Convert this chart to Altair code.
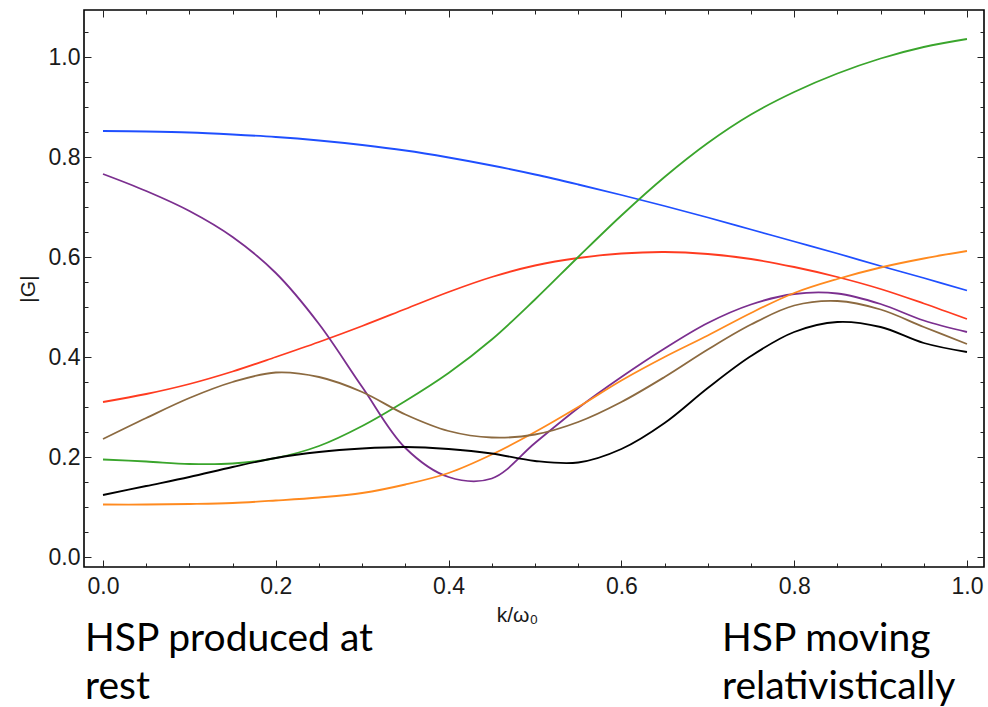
import altair as alt
import pandas as pd

# k / omega_0 sample positions
k_vals = [0.0, 0.05, 0.1, 0.15, 0.2, 0.25, 0.3, 0.35, 0.4, 0.45, 0.5,
          0.55, 0.6, 0.65, 0.7, 0.75, 0.8, 0.85, 0.9, 0.95, 1.0]

blue = [0.852, 0.851, 0.849, 0.845, 0.840, 0.833, 0.824, 0.813, 0.799, 0.783, 0.765,
        0.745, 0.724, 0.702, 0.679, 0.655, 0.631, 0.607, 0.582, 0.558, 0.533]
green = [0.195, 0.191, 0.186, 0.187, 0.198, 0.222, 0.262, 0.312, 0.368, 0.435, 0.515,
         0.600, 0.683, 0.760, 0.828, 0.885, 0.930, 0.967, 0.997, 1.020, 1.036]
red = [0.310, 0.326, 0.346, 0.371, 0.400, 0.430, 0.462, 0.496, 0.530, 0.560, 0.583,
       0.598, 0.607, 0.610, 0.606, 0.596, 0.580, 0.560, 0.536, 0.507, 0.476]
purple = [0.766, 0.732, 0.692, 0.640, 0.568, 0.466, 0.340, 0.218, 0.160, 0.157, 0.228,
          0.298, 0.360, 0.417, 0.468, 0.505, 0.526, 0.527, 0.506, 0.473, 0.450]
brown = [0.236, 0.278, 0.318, 0.350, 0.369, 0.360, 0.330, 0.285, 0.252, 0.239, 0.245,
         0.270, 0.310, 0.360, 0.415, 0.465, 0.503, 0.512, 0.495, 0.460, 0.426]
black = [0.124, 0.142, 0.160, 0.180, 0.198, 0.210, 0.217, 0.220, 0.216, 0.207, 0.192,
         0.189, 0.216, 0.268, 0.338, 0.402, 0.450, 0.470, 0.460, 0.428, 0.410]
orange = [0.105, 0.105, 0.106, 0.108, 0.113, 0.119, 0.128, 0.145, 0.168, 0.205, 0.250,
          0.300, 0.353, 0.400, 0.443, 0.488, 0.528, 0.556, 0.579, 0.597, 0.612]

series_names = ["blue", "red", "green", "purple", "orange", "brown", "black"]
series_values = [blue, red, green, purple, orange, brown, black]
series_colors = ["#1f4fff", "#ff3b20", "#3aa52c", "#7b2f8f", "#ff8a1f", "#8c6a40", "#000000"]

x_tick_values = [round(i * 0.05, 2) for i in range(21)]
y_tick_values = [round(i * 0.05, 2) for i in range(22)]

left_note = "HSP produced at\nrest"
right_note = "HSP moving\nrelativistically"

rows = []
for name, vals in zip(series_names, series_values):
    for kk, g in zip(k_vals, vals):
        rows.append({"k": kk, "G": g, "series": name})
df = pd.DataFrame(rows)

x_scale = alt.Scale(domain=[-0.022, 1.0197], nice=False, zero=False)
y_scale = alt.Scale(domain=[-0.02, 1.094], nice=False, zero=False)
color_scale = alt.Scale(domain=series_names, range=series_colors)

MAJ = 7
MIN = 4
minor_test = "abs(datum.value*5 - round(datum.value*5)) > 0.001"
label_expr = "abs(datum.value*5 - round(datum.value*5)) < 0.001 ? format(datum.value, '.1f') : ''"

tick_common = dict(
    offset=-MAJ,
    tickSize=MAJ,
    tickColor="#222222",
    tickWidth=1,
    tickDash={"condition": {"test": minor_test, "value": [MIN, MAJ - MIN]}, "value": [MAJ, 0]},
    tickDashOffset={"condition": {"test": minor_test, "value": MIN}, "value": 0},
    domain=False,
    grid=False,
    labelOverlap=False,
    labelFlush=False,
)
label_font = "Liberation Sans"

x_bottom = alt.Axis(orient="bottom", values=x_tick_values, labelExpr=label_expr,
                    labelFont=label_font, labelFontSize=23, labelColor="#1a1a1a",
                    labelPadding=8, title="k/ω₀", titleFont=label_font, titleFontSize=21,
                    titleFontWeight="normal", titleColor="#1a1a1a", titlePadding=6,
                    titleX=433, **tick_common)
y_left = alt.Axis(orient="left", values=y_tick_values, labelExpr=label_expr,
                  labelFont=label_font, labelFontSize=23, labelColor="#1a1a1a",
                  labelPadding=4, title="|G|", titleFont=label_font, titleFontSize=21,
                  titleFontWeight="normal", titleColor="#1a1a1a", titlePadding=10,
                  **tick_common)
x_top = alt.Axis(orient="top", values=x_tick_values, labels=False, title=None, **tick_common)
y_right = alt.Axis(orient="right", values=y_tick_values, labels=False, title=None, **tick_common)

lines = alt.Chart(df).mark_line(strokeWidth=1.8, interpolate="catmull-rom").encode(
    x=alt.X("k:Q", scale=x_scale, axis=x_bottom),
    y=alt.Y("G:Q", scale=y_scale, axis=y_left),
    color=alt.Color("series:N", scale=color_scale, legend=None),
    detail="series:N",
)

frame_axes = alt.Chart(df).mark_line(opacity=0).encode(
    x=alt.X("k:Q", scale=x_scale, axis=x_top),
    y=alt.Y("G:Q", scale=y_scale, axis=y_right),
    detail="series:N",
)

note_left = alt.Chart(pd.DataFrame({"t": [left_note]})).mark_text(
    align="left", baseline="alphabetic", font="Lato", fontSize=39,
    lineBreak="\n", lineHeight=48, color="#000000",
).encode(x=alt.value(1), y=alt.value(641), text="t:N")

note_right = alt.Chart(pd.DataFrame({"t": [right_note]})).mark_text(
    align="left", baseline="alphabetic", font="Lato", fontSize=39,
    lineBreak="\n", lineHeight=48, color="#000000",
).encode(x=alt.value(638), y=alt.value(641), text="t:N")

chart = alt.layer(lines, frame_axes, note_left, note_right).resolve_axis(
    x="independent", y="independent"
).properties(
    width=900,
    height=557,
    padding={"left": 84, "top": 10, "right": 4, "bottom": 140},
    autosize=alt.AutoSizeParams(type="none"),
).configure_view(stroke="#000000", strokeWidth=1.6)

chart.save("out.html", embed_options={"renderer": "svg", "actions": False})
